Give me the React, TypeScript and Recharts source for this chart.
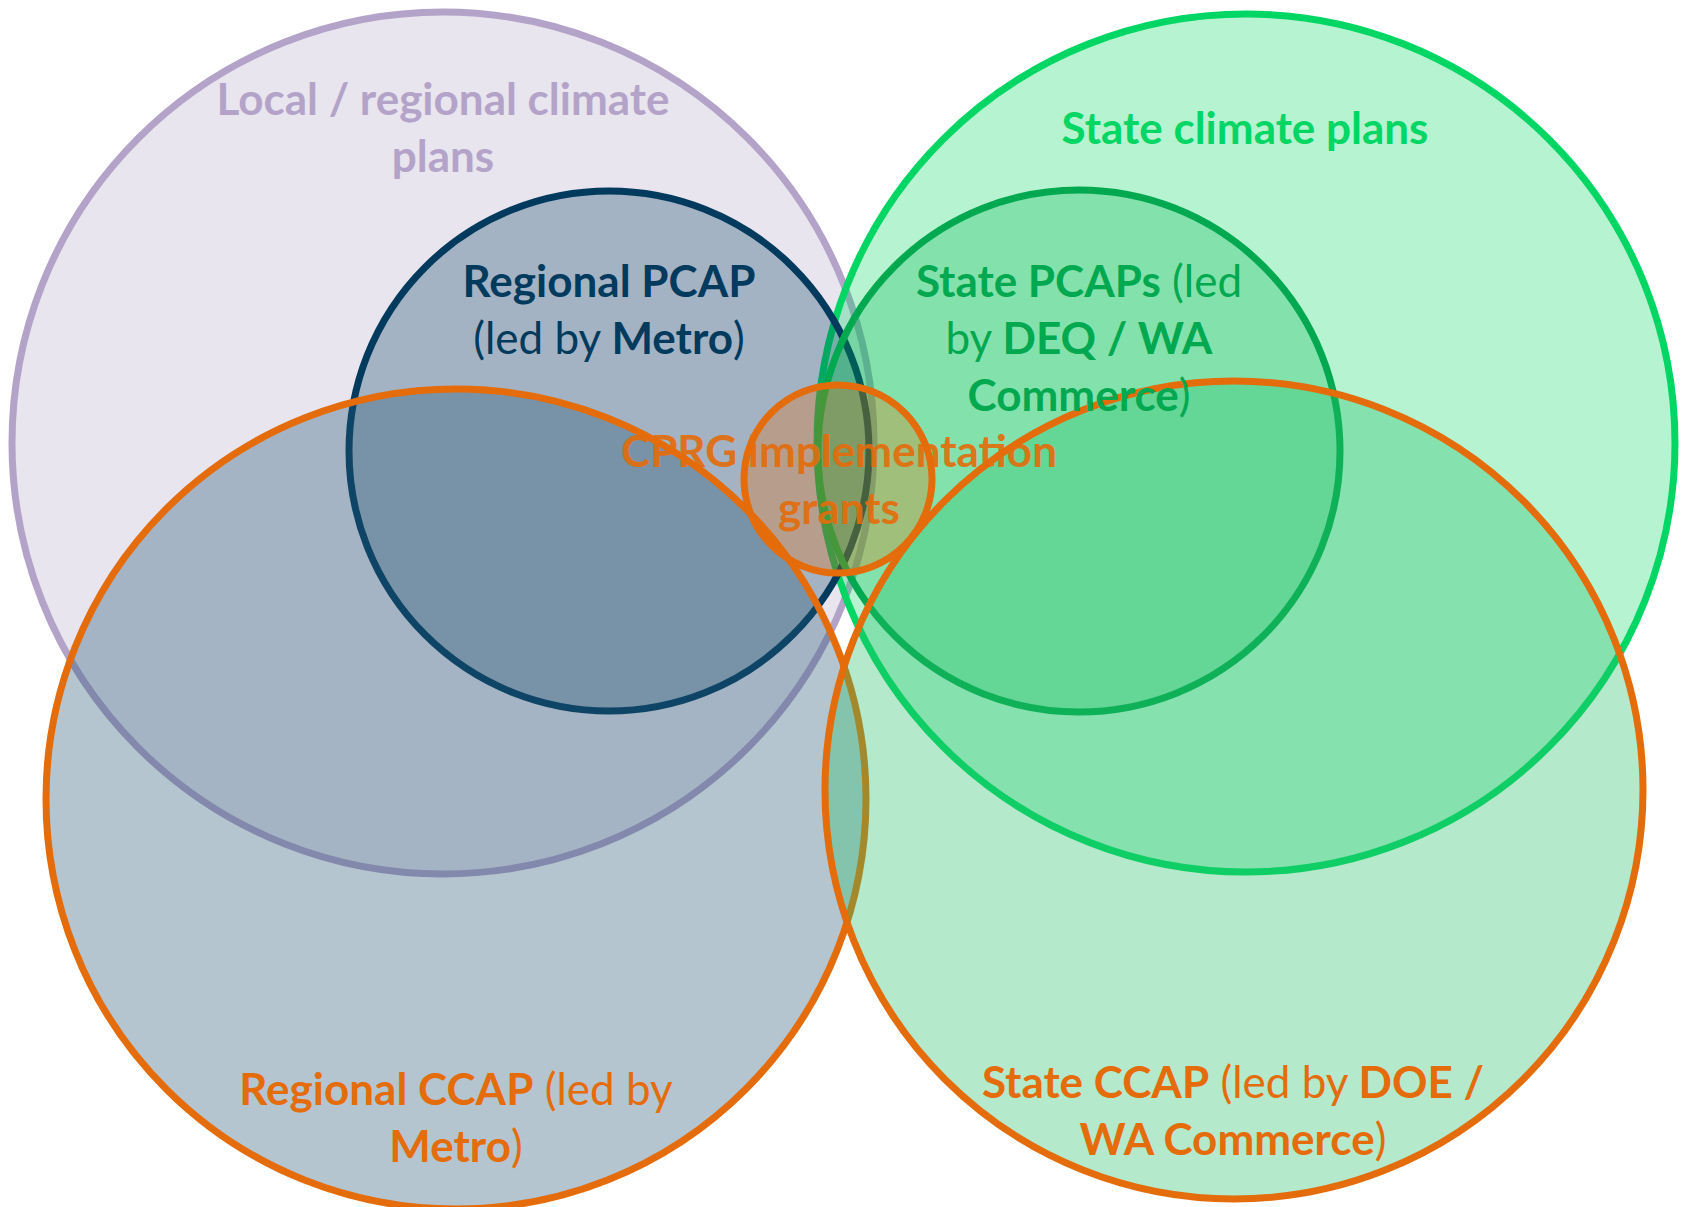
import { ScatterChart, Scatter, XAxis, YAxis } from "recharts";

// circle geometry (pixel-like units)
const circleNames = ["Local / regional", "State climate", "Regional PCAP", "State PCAPs", "Regional CCAP", "State CCAP", "CPRG"];
const circleX = [443, 1246, 609, 1079, 456, 1234, 838];
const circleY = [443, 443, 451, 451, 799, 790, 479];
const circleR = [431, 429, 260, 261, 410, 409, 94];

// label anchors (centre of first line)
const labelX = [443, 1245, 609, 1079, 456, 1233, 839];
const labelY = [98, 127, 280, 280, 1088, 1081, 450];
const labelLines: [string, boolean][][][] = [
  [[["Local / regional climate", true]], [["plans", true]]],
  [[["State climate plans", true]]],
  [[["Regional PCAP", true]], [["(led by ", false], ["Metro", true], [")", false]]],
  [
    [["State PCAPs", true], [" (led", false]],
    [["by ", false], ["DEQ / WA", true]],
    [["Commerce", true], [")", false]],
  ],
  [[["Regional CCAP", true], [" (led by", false]], [["Metro", true], [")", false]]],
  [[["State CCAP", true], [" (led by ", false], ["DOE /", true]], [["WA Commerce", true], [")", false]]],
  [[["CPRG implementation", true]], [["grants", true]]],
];

const W = 1681;
const H = 1207;
const LINE = 57;

const FILL = ["#2a1260", "#00d562", "#003a5c", "#00b54b", "#295976", "#2cc06a", "#e46c0a"];
const FILL_OP = [0.11, 0.29, 0.29, 0.275, 0.35, 0.35, 0.3];
const STROKE = ["#b4a3c9", "#00d664", "#003a5c", "#00a94f", "#e46c0a", "#e46c0a", "#e46c0a"];
const TEXT_COLOR = ["#b4a3c9", "#00d664", "#003a5c", "#00a94f", "#e46c0a", "#e46c0a", "#e46c0a"];

const circles = circleNames.map((name, i) => ({ name, x: circleX[i], y: circleY[i], r: circleR[i], i }));
const labels = labelLines.map((lines, i) => ({ x: labelX[i], y: labelY[i], lines, i }));

function CircleShape(props: any) {
  const { cx, cy, payload } = props;
  const i = payload.i;
  return (
    <circle
      cx={cx}
      cy={cy}
      r={payload.r * (W / W)}
      fill={FILL[i]}
      fillOpacity={FILL_OP[i]}
      stroke={STROKE[i]}
      strokeWidth={7}
    />
  );
}

function LabelShape(props: any) {
  const { cx, cy, payload } = props;
  const i = payload.i;
  return (
    <text
      x={cx}
      y={cy}
      textAnchor="middle"
      fill={TEXT_COLOR[i]}
      fontFamily="Lato, 'Open Sans', sans-serif"
      fontSize={44}
      opacity={i === 6 ? 0.9 : 1}
    >
      {payload.lines.map((line: [string, boolean][], li: number) => (
        <tspan key={li} x={cx} y={cy + li * LINE} dominantBaseline="central">
          {line.map(([t, bold], si) => (
            <tspan key={si} fontWeight={bold ? 700 : 400} style={{ whiteSpace: "pre" }}>
              {t}
            </tspan>
          ))}
        </tspan>
      ))}
    </text>
  );
}

export default function App() {
  return (
    <div style={{ position: "absolute", left: 0, top: 0, width: W, height: H, background: "#fff" }}>
      <ScatterChart width={W} height={H} margin={{ top: 0, right: 0, bottom: 0, left: 0 }}>
        <XAxis type="number" dataKey="x" domain={[0, W]} hide />
        <YAxis type="number" dataKey="y" domain={[0, H]} reversed hide />
        {circles.map((c) => (
          <Scatter key={c.name} data={[c]} shape={CircleShape} isAnimationActive={false} />
        ))}
        <Scatter data={labels} shape={LabelShape} isAnimationActive={false} />
      </ScatterChart>
    </div>
  );
}
